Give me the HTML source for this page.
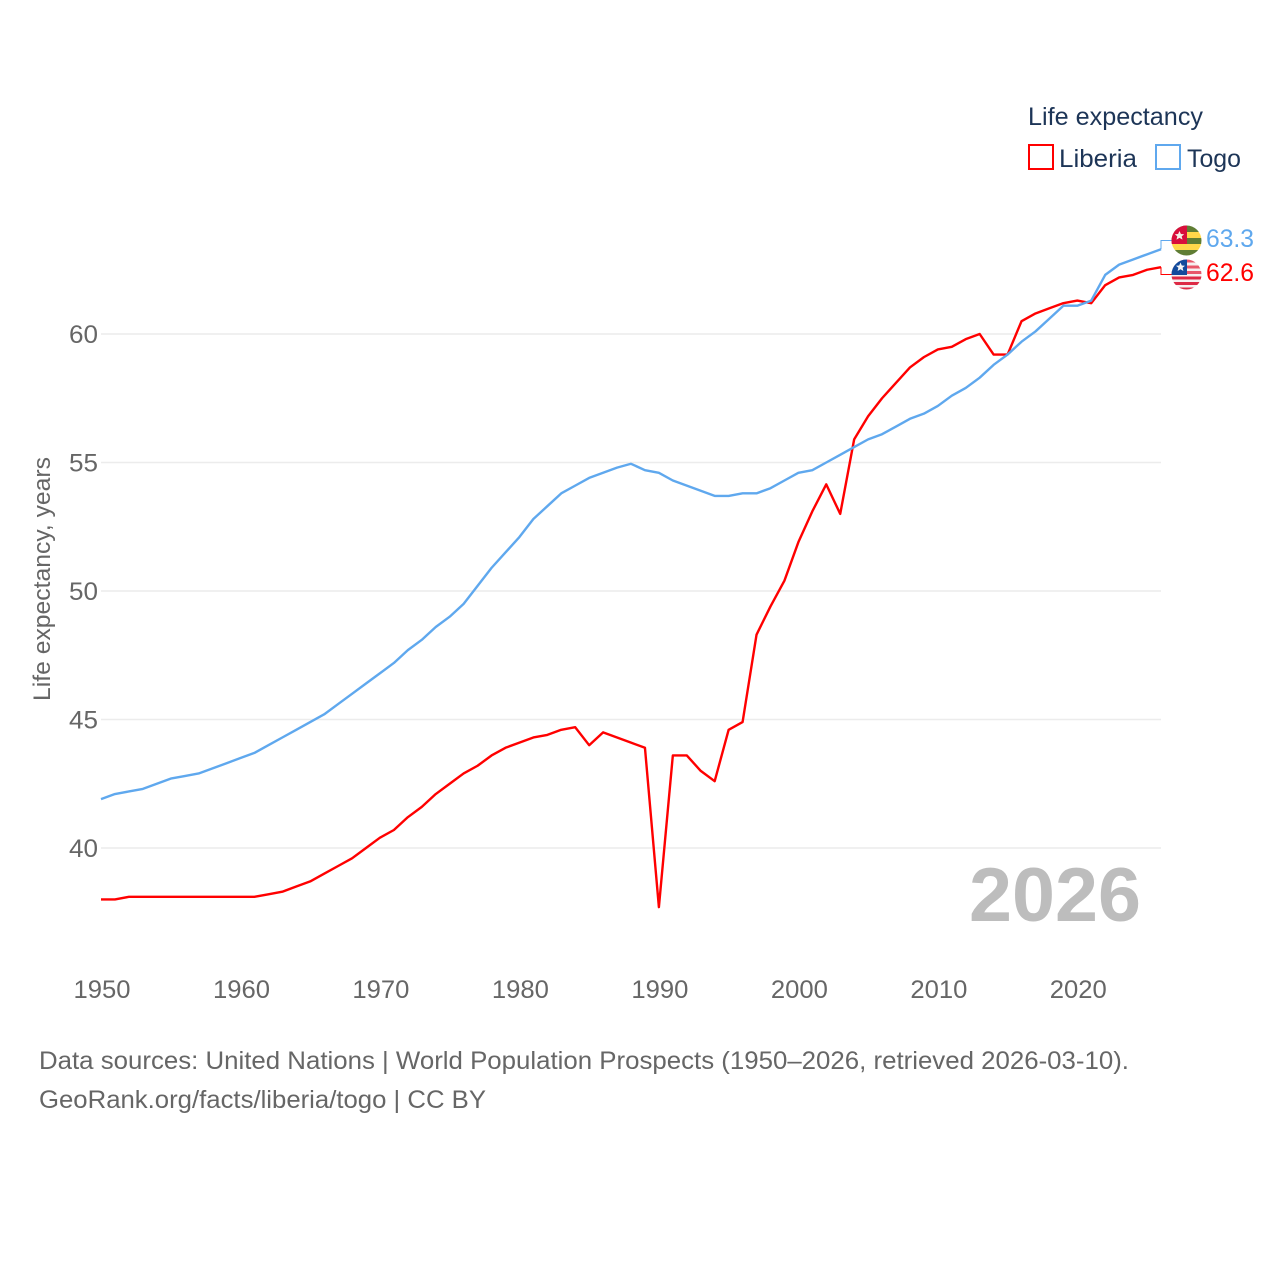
<!DOCTYPE html>
<html lang="en">
<head>
<meta charset="utf-8">
<title>Life expectancy: Liberia and Togo</title>
<style>
html,body{margin:0;padding:0;background:#fff}
svg{display:block}
text{font-family:"Liberation Sans",sans-serif}
</style>
</head>
<body>
<svg id="chart" xmlns="http://www.w3.org/2000/svg" width="1280" height="1280" viewBox="0 0 1280 1280">
  <rect x="0" y="0" width="1280" height="1280" fill="#ffffff"/>
  <g id="grid"></g>
  <g id="yticks"></g>
  <g id="xticks"></g>
  <text transform="translate(50,701) rotate(-90)" font-size="24" fill="#666666" textLength="244" lengthAdjust="spacingAndGlyphs">Life expectancy, years</text>
  <text x="969" y="921" font-size="76" font-weight="bold" fill="#bdbdbd" textLength="172" lengthAdjust="spacingAndGlyphs">2026</text>
  <g id="series"></g>

  <g>
    <text x="1028" y="125" font-size="25" fill="#1d3557" textLength="175" lengthAdjust="spacingAndGlyphs">Life expectancy</text>
    <g>
      <rect x="1029" y="145" width="24" height="24" fill="none" stroke="#ff0000" stroke-width="2"/>
      <text x="1059" y="167" font-size="25" fill="#1d3557" textLength="78" lengthAdjust="spacingAndGlyphs">Liberia</text>
    </g>
    <g>
      <rect x="1156" y="145" width="24" height="24" fill="none" stroke="#5fa8ee" stroke-width="2"/>
      <text x="1187" y="167" font-size="25" fill="#1d3557" textLength="54" lengthAdjust="spacingAndGlyphs">Togo</text>
    </g>
  </g>

  <defs>
    <clipPath id="togo-clip"><circle cx="1186.5" cy="240.5" r="15"/></clipPath>
    <clipPath id="liberia-clip"><circle cx="1186.5" cy="274.5" r="15"/></clipPath>
  </defs>

  <g clip-path="url(#togo-clip)">
    <rect x="1171" y="225" width="31" height="7" fill="#5f7d34"/>
    <rect x="1171" y="232" width="31" height="6" fill="#ffd84a"/>
    <rect x="1171" y="238" width="31" height="6" fill="#5f7d34"/>
    <rect x="1171" y="244" width="31" height="6" fill="#ffd84a"/>
    <rect x="1171" y="250" width="31" height="6" fill="#5f7d34"/>
    <rect x="1171" y="225" width="16" height="19" fill="#d80f3c"/>
    <polygon points="1179.5,231 1180.9,234 1184.2,234.3 1181.7,236.4 1182.5,239.6 1179.5,237.9 1176.5,239.6 1177.3,236.4 1174.8,234.3 1178.1,234" fill="#f4f0e6"/>
  </g>
  <g clip-path="url(#liberia-clip)">
    <rect x="1171" y="259" width="31" height="31" fill="#f6f0f0"/>
    <rect x="1171" y="259.5" width="31" height="3" fill="#e8576a"/>
    <rect x="1171" y="265.5" width="31" height="3" fill="#e8576a"/>
    <rect x="1171" y="271" width="31" height="3" fill="#e8576a"/>
    <rect x="1171" y="276.5" width="31" height="3" fill="#dd2a45"/>
    <rect x="1171" y="282" width="31" height="3" fill="#dd2a45"/>
    <rect x="1171" y="287.5" width="31" height="3" fill="#dd2a45"/>
    <rect x="1171" y="259" width="16" height="16" fill="#124a9c"/>
    <polygon points="1180.5,262.5 1181.8,265.5 1185,265.7 1182.6,267.8 1183.4,271 1180.5,269.3 1177.6,271 1178.4,267.8 1176,265.7 1179.2,265.5" fill="#f4f4f4"/>
  </g>

  <text x="1206" y="247" font-size="25" fill="#5fa8ee" textLength="48" lengthAdjust="spacingAndGlyphs">63.3</text>
  <text x="1206" y="281" font-size="25" fill="#ff0000" textLength="48" lengthAdjust="spacingAndGlyphs">62.6</text>

  <text x="39" y="1069" font-size="25" fill="#666666" textLength="1090" lengthAdjust="spacingAndGlyphs">Data sources: United Nations | World Population Prospects (1950–2026, retrieved 2026-03-10).</text>
  <a><text x="39" y="1108" font-size="25" fill="#666666" textLength="447" lengthAdjust="spacingAndGlyphs">GeoRank.org/facts/liberia/togo | CC BY</text></a>
</svg>

<script>
const startYear = 1950;
const liberiaValues = [
  38.0,38.0,38.1,38.1,38.1,38.1,38.1,38.1,38.1,38.1,
  38.1,38.1,38.2,38.3,38.5,38.7,39.0,39.3,39.6,40.0,
  40.4,40.7,41.2,41.6,42.1,42.5,42.9,43.2,43.6,43.9,
  44.1,44.3,44.4,44.6,44.7,44.0,44.5,44.3,44.1,43.9,
  37.7,43.6,43.6,43.0,42.6,44.6,44.9,48.3,49.4,50.4,
  51.9,53.1,54.15,53.0,55.9,56.8,57.5,58.1,58.7,59.1,
  59.4,59.5,59.8,60.0,59.2,59.2,60.5,60.8,61.0,61.2,
  61.3,61.2,61.9,62.2,62.3,62.5,62.6
];
const togoValues = [
  41.9,42.1,42.2,42.3,42.5,42.7,42.8,42.9,43.1,43.3,
  43.5,43.7,44.0,44.3,44.6,44.9,45.2,45.6,46.0,46.4,
  46.8,47.2,47.7,48.1,48.6,49.0,49.5,50.2,50.9,51.5,
  52.1,52.8,53.3,53.8,54.1,54.4,54.6,54.8,54.95,54.7,
  54.6,54.3,54.1,53.9,53.7,53.7,53.8,53.8,54.0,54.3,
  54.6,54.7,55.0,55.3,55.6,55.9,56.1,56.4,56.7,56.9,
  57.2,57.6,57.9,58.3,58.8,59.2,59.7,60.1,60.6,61.1,
  61.1,61.3,62.3,62.7,62.9,63.1,63.3
];
const yTickValues = [40,45,50,55,60];
const xTickValues = [1950,1960,1970,1980,1990,2000,2010,2020];

const NS = 'http://www.w3.org/2000/svg';
function xScale(year){ return 101 + (year - 1950) * (1161 - 101) / 76; }
function yScale(v){ return 848 - (v - 40) * (848 - 334) / 20; }
function make(tag, parent){
  const el = document.createElementNS(NS, tag);
  parent.appendChild(el);
  return el;
}

const grid = document.getElementById('grid');
const yticks = document.getElementById('yticks');
const xticks = document.getElementById('xticks');
const series = document.getElementById('series');

yTickValues.forEach(function(v){
  const line = make('line', grid);
  
  
  line.setAttribute('x1', 101);
  line.setAttribute('x2', 1161);
  line.setAttribute('y1', yScale(v));
  line.setAttribute('y2', yScale(v));
  line.setAttribute('stroke', '#ececec');
  line.setAttribute('stroke-width', '1.6');

  const t = make('text', yticks);
  
  
  t.setAttribute('x', 69);
  t.setAttribute('y', yScale(v) + 9);
  t.setAttribute('font-size', '25');
  t.setAttribute('fill', '#666666');
  t.setAttribute('textLength', '29');
  t.setAttribute('lengthAdjust', 'spacingAndGlyphs');
  t.textContent = String(v);
});

xTickValues.forEach(function(year){
  const t = make('text', xticks);
  
  
  t.setAttribute('x', xScale(year) - 27.5);
  t.setAttribute('y', 998);
  t.setAttribute('font-size', '25');
  t.setAttribute('fill', '#666666');
  t.setAttribute('textLength', '57');
  t.setAttribute('lengthAdjust', 'spacingAndGlyphs');
  t.textContent = String(year);
});

function pathFor(values){
  return values.map(function(v, i){
    return (i ? 'L' : 'M') + xScale(startYear + i).toFixed(2) + ' ' + yScale(v).toFixed(2);
  }).join(' ');
}
function lastPoint(values){
  const i = values.length - 1;
  return [xScale(startYear + i), yScale(values[i])];
}

const liberiaLine = make('path', series);


liberiaLine.setAttribute('d', pathFor(liberiaValues));
liberiaLine.setAttribute('fill', 'none');
liberiaLine.setAttribute('stroke', '#ff0000');
liberiaLine.setAttribute('stroke-width', '2.4');
liberiaLine.setAttribute('stroke-linejoin', 'round');

const togoLine = make('path', series);


togoLine.setAttribute('d', pathFor(togoValues));
togoLine.setAttribute('fill', 'none');
togoLine.setAttribute('stroke', '#5fa8ee');
togoLine.setAttribute('stroke-width', '2.4');
togoLine.setAttribute('stroke-linejoin', 'round');

const liberiaEnd = lastPoint(liberiaValues);
const togoEnd = lastPoint(togoValues);

const liberiaConnector = make('path', series);


liberiaConnector.setAttribute('d', 'M' + liberiaEnd[0] + ' ' + liberiaEnd[1] + ' V274.5 H1172');
liberiaConnector.setAttribute('fill', 'none');
liberiaConnector.setAttribute('stroke', '#ff0000');
liberiaConnector.setAttribute('stroke-width', '1');

const togoConnector = make('path', series);


togoConnector.setAttribute('d', 'M' + togoEnd[0] + ' ' + togoEnd[1] + ' V240.5 H1172');
togoConnector.setAttribute('fill', 'none');
togoConnector.setAttribute('stroke', '#5fa8ee');
togoConnector.setAttribute('stroke-width', '1');
</script>
</body>
</html>
